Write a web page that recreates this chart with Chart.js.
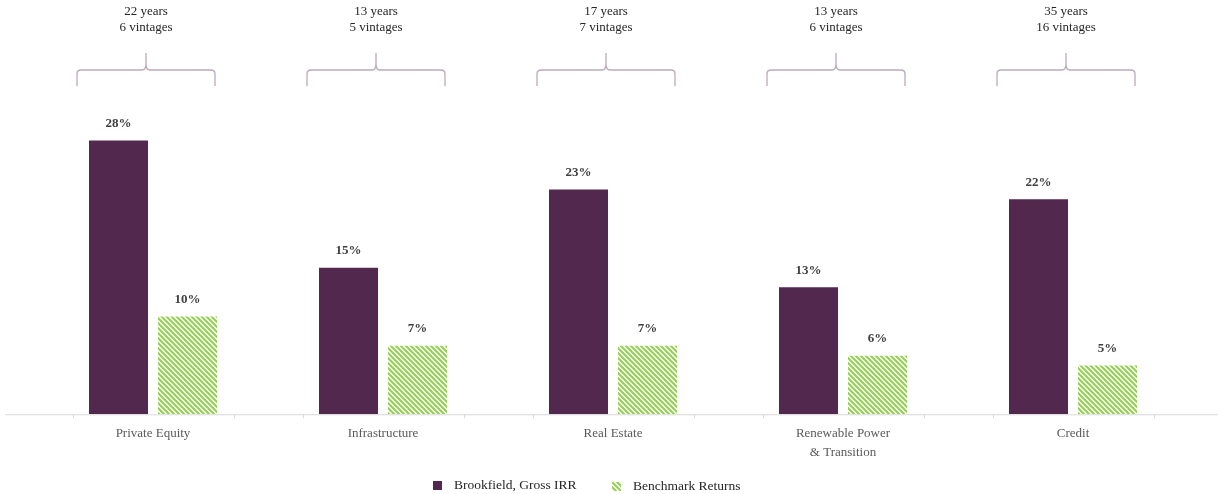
<!DOCTYPE html>
<html>
<head>
<meta charset="utf-8">
<script src="https://cdn.jsdelivr.net/npm/chart.js@4"></script>
<style>
  html, body { margin: 0; padding: 0; background: #fff; }
  #wrap { width: 1223px; height: 494px; }
</style>
</head>
<body>
<div id="wrap"><canvas id="chart" width="1223" height="494"></canvas></div>
<script>
const categories = [['Private Equity'], ['Infrastructure'], ['Real Estate'], ['Renewable Power', '& Transition'], ['Credit']];
const brookfieldIRR = [28, 15, 23, 13, 22];
const benchmarkReturns = [10, 7, 7, 6, 5];
const yearsLabels = ['22 years', '13 years', '17 years', '13 years', '35 years'];
const vintageLabels = ['6 vintages', '5 vintages', '7 vintages', '6 vintages', '16 vintages'];
const seriesNames = ['Brookfield, Gross IRR', 'Benchmark Returns'];

const PLUM = '#52284e';
const GREEN = '#92d050';
const FONT = '"Liberation Serif", "DejaVu Serif", serif';

// diagonal hatch for the benchmark bars
function makeHatch() {
  const c = document.createElement('canvas');
  c.width = 5; c.height = 5;
  const g = c.getContext('2d');
  g.fillStyle = '#ffffff';
  g.fillRect(0, 0, 5, 5);
  g.strokeStyle = GREEN;
  g.lineWidth = 2;
  g.beginPath();
  g.moveTo(-1, -1); g.lineTo(6, 6);
  g.moveTo(-1, 4); g.lineTo(1, 6);
  g.moveTo(4, -1); g.lineTo(6, 1);
  g.stroke();
  return g.createPattern(c, 'repeat');
}
const hatch = makeHatch();

const extras = {
  id: 'extras',
  afterDatasetsDraw(chart) {
    const ctx = chart.ctx;
    const x = chart.scales.x;
    const area = chart.chartArea;
    ctx.save();

    // value labels
    ctx.font = 'bold 13px ' + FONT;
    ctx.fillStyle = '#404040';
    ctx.textAlign = 'center';
    ctx.textBaseline = 'middle';
    chart.data.datasets.forEach((ds, di) => {
      chart.getDatasetMeta(di).data.forEach((bar, i) => {
        ctx.fillText(ds.data[i] + '%', bar.x, bar.y - 17);
      });
    });

    // axis line and ticks
    ctx.strokeStyle = '#d9d9d9';
    ctx.lineWidth = 1;
    ctx.beginPath();
    ctx.moveTo(5, area.bottom + 0.5);
    ctx.lineTo(1218, area.bottom + 0.5);
    categories.forEach((c, i) => {
      const cx = Math.round(x.getPixelForValue(i));
      [cx - 80, cx + 81].forEach(t => {
        ctx.moveTo(t + 0.5, area.bottom);
        ctx.lineTo(t + 0.5, area.bottom + 4);
      });
    });
    ctx.stroke();

    // braces and period text
    categories.forEach((c, i) => {
      const cx = x.getPixelForValue(i) - 7;
      const l = cx - 69, r = cx + 69;
      ctx.strokeStyle = '#bcaabb';
      ctx.lineWidth = 1.3;
      ctx.beginPath();
      ctx.moveTo(l, 86);
      ctx.lineTo(l, 74);
      ctx.quadraticCurveTo(l, 70, l + 4, 70);
      ctx.lineTo(cx - 4, 70);
      ctx.quadraticCurveTo(cx, 70, cx, 64);
      ctx.lineTo(cx, 53);
      ctx.moveTo(cx, 64);
      ctx.quadraticCurveTo(cx, 70, cx + 4, 70);
      ctx.lineTo(r - 4, 70);
      ctx.quadraticCurveTo(r, 70, r, 74);
      ctx.lineTo(r, 86);
      ctx.stroke();

      ctx.font = '13px ' + FONT;
      ctx.fillStyle = '#262626';
      ctx.fillText(yearsLabels[i], cx, 12);
      ctx.fillText(vintageLabels[i], cx, 28);
    });

    // legend
    ctx.textAlign = 'left';
    ctx.font = '13.5px ' + FONT;
    ctx.fillStyle = PLUM;
    ctx.fillRect(433, 481, 9, 9);
    ctx.fillStyle = '#262626';
    ctx.fillText(seriesNames[0], 454, 485);
    ctx.fillStyle = hatch;
    ctx.fillRect(612, 482, 9, 9);
    ctx.fillStyle = '#262626';
    ctx.fillText(seriesNames[1], 633, 486);

    ctx.restore();
  }
};

new Chart(document.getElementById('chart'), {
  type: 'bar',
  data: {
    labels: categories,
    datasets: [{
      label: seriesNames[0],
      data: brookfieldIRR,
      backgroundColor: PLUM,
      categoryPercentage: 0.6,
      barPercentage: 0.855
    }, {
      label: seriesNames[1],
      data: benchmarkReturns,
      backgroundColor: hatch,
      categoryPercentage: 0.6,
      barPercentage: 0.855
    }]
  },
  options: {
    responsive: false,
    animation: false,
    layout: { padding: { left: 38, right: 35, top: 121, bottom: 30 } },
    plugins: { legend: { display: false }, tooltip: { enabled: false } },
    scales: {
      x: {
        grid: { display: false },
        border: { display: false },
        ticks: {
          color: '#595959',
          font: { family: FONT, size: 13, lineHeight: 1.45 },
          padding: 2,
          maxRotation: 0
        }
      },
      y: {
        display: false,
        min: 0,
        max: 30
      }
    }
  },
  plugins: [extras]
});
</script>
</body>
</html>
